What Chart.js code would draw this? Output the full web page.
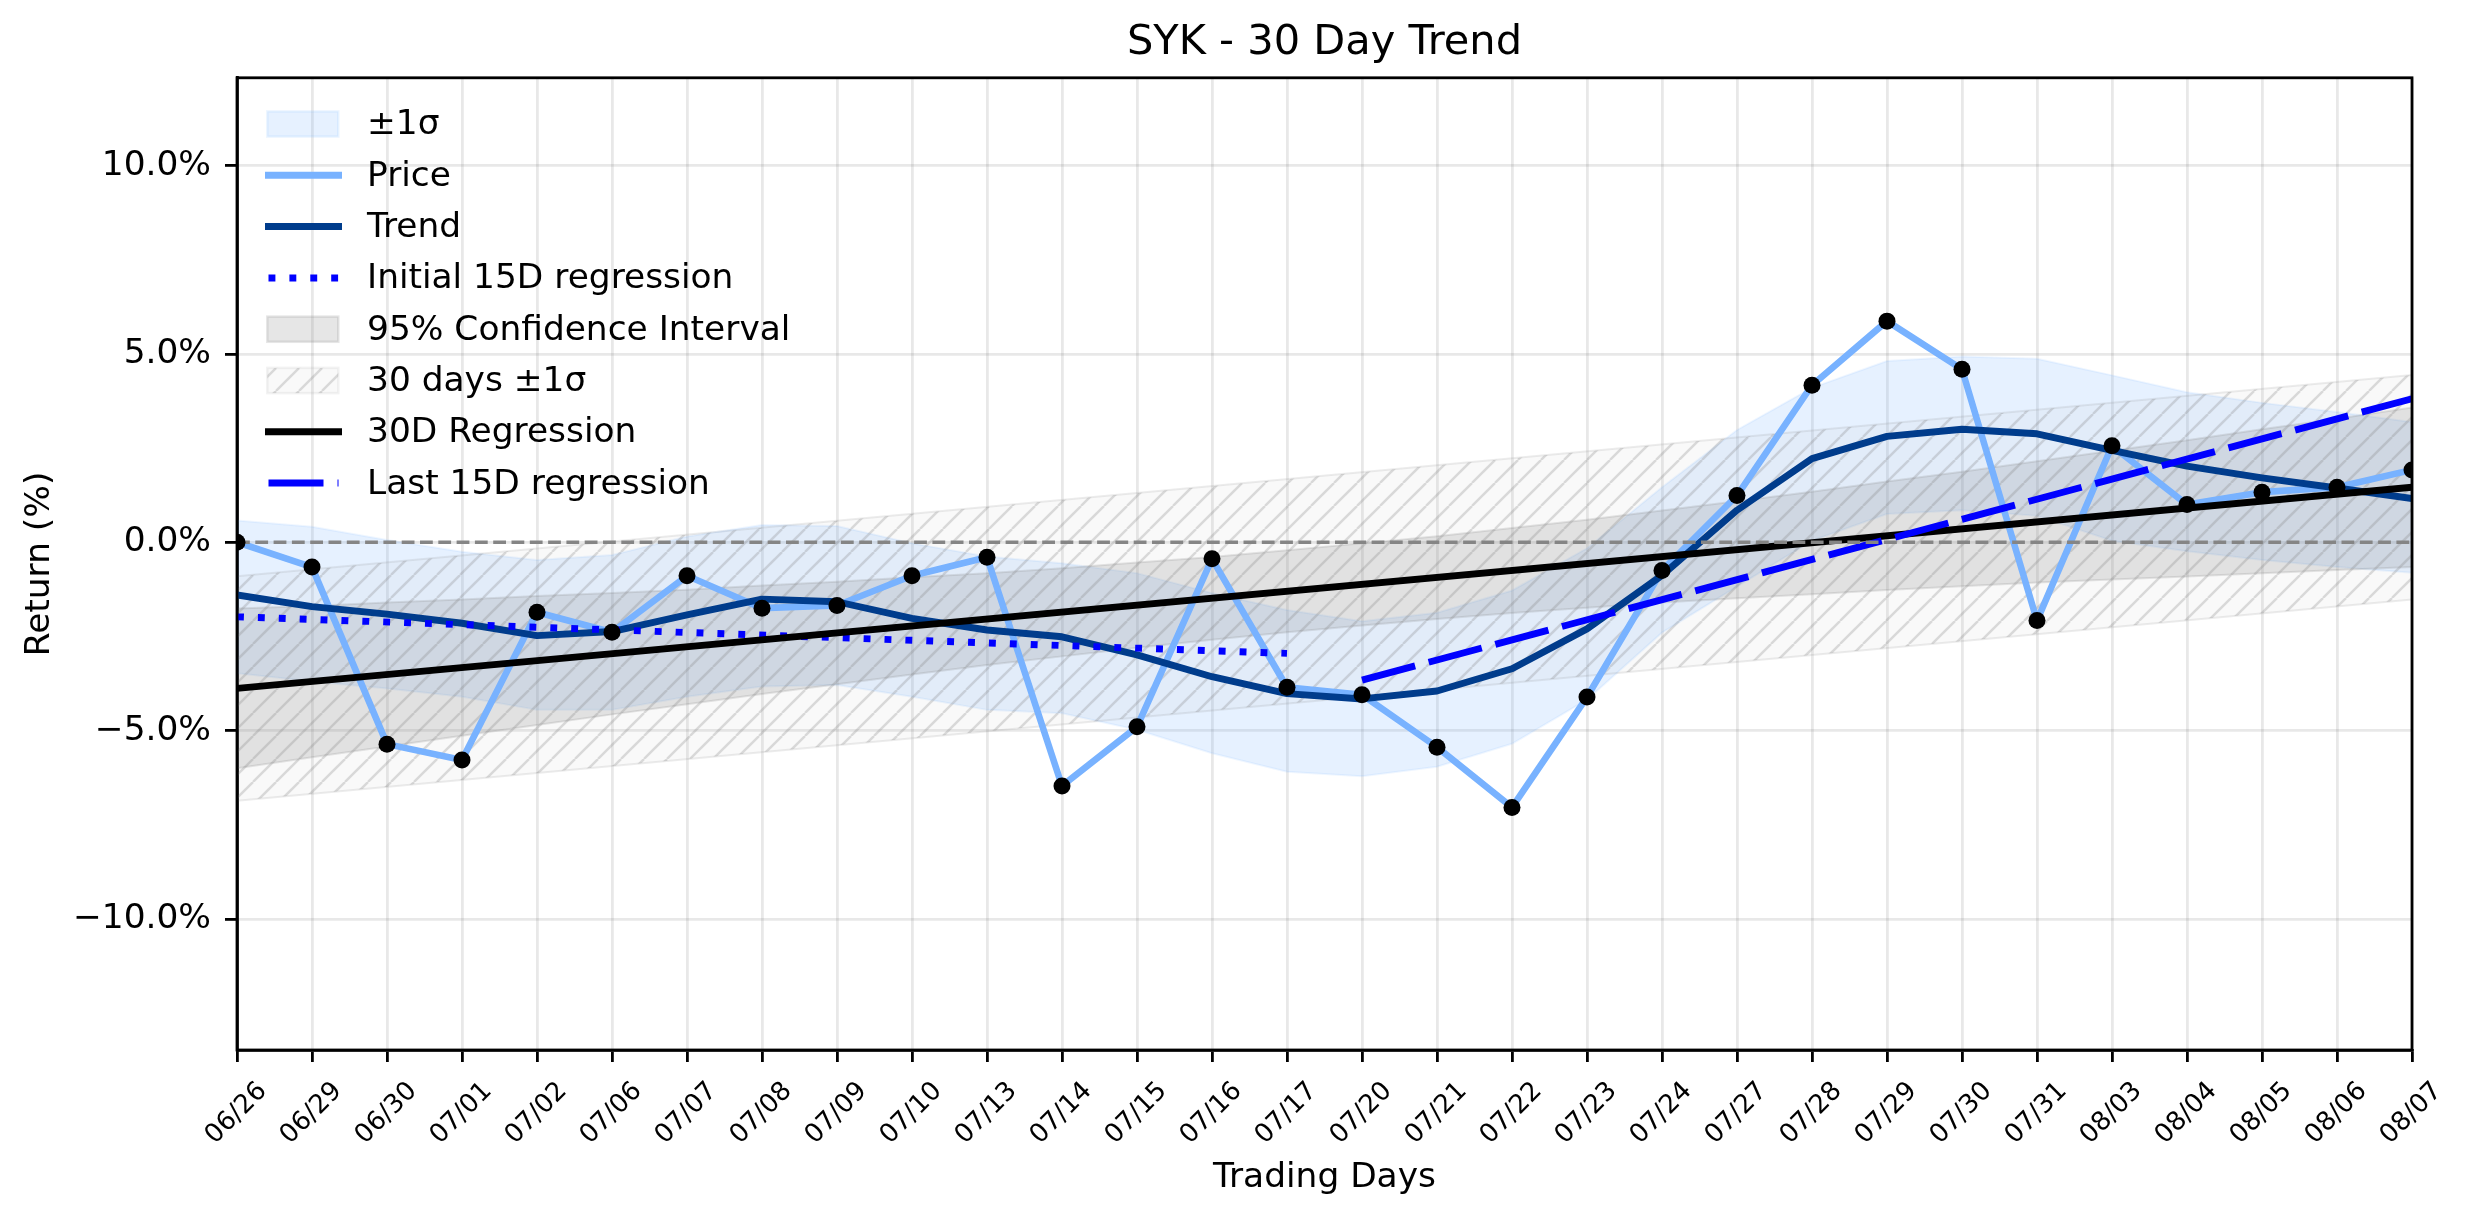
<!DOCTYPE html>
<html>
<head>
<meta charset="utf-8">
<title>SYK - 30 Day Trend</title>
<script src="https://cdn.jsdelivr.net/npm/chart.js@4.4.1/dist/chart.umd.min.js"></script>
<style>
  html, body { margin: 0; padding: 0; background: #fff; }
  #chart { display: block; }
</style>
</head>
<body>
<canvas id="chart" width="2474" height="1224"></canvas>
<script>
// x axis: trading days
const days = ['06/26','06/29','06/30','07/01','07/02','07/06','07/07','07/08','07/09','07/10',
              '07/13','07/14','07/15','07/16','07/17','07/20','07/21','07/22','07/23','07/24',
              '07/27','07/28','07/29','07/30','07/31','08/03','08/04','08/05','08/06','08/07'];

// return in %
const price = [0.00, -0.66, -5.36, -5.78, -1.86, -2.39, -0.89, -1.75, -1.68, -0.89,
               -0.40, -6.47, -4.90, -0.44, -3.85, -4.05, -5.44, -7.04, -4.11, -0.75,
                1.24, 4.17, 5.87, 4.59, -2.08, 2.56, 1.00, 1.33, 1.46, 1.92];
const trend = [-1.40, -1.71, -1.91, -2.15, -2.48, -2.37, -1.93, -1.51, -1.58, -2.02,
               -2.33, -2.51, -2.99, -3.57, -4.02, -4.16, -3.95, -3.36, -2.30, -0.88,
                0.85, 2.22, 2.81, 3.00, 2.88, 2.44, 2.02, 1.71, 1.44, 1.16];
const sigmaUpper = [0.58, 0.41, 0.06, -0.25, -0.47, -0.34, 0.15, 0.46, 0.43, -0.03,
                    -0.38, -0.56, -0.82, -1.35, -1.80, -2.10, -1.87, -1.28, -0.16, 1.46,
                     2.98, 4.10, 4.81, 4.93, 4.87, 4.43, 3.98, 3.70, 3.46, 3.19];
const sigmaLower = [-3.48, -3.70, -3.88, -4.10, -4.45, -4.45, -4.10, -3.83, -3.79, -4.10,
                    -4.45, -4.54, -4.98, -5.60, -6.09, -6.21, -5.96, -5.35, -4.18, -2.40,
                    -1.18, 0.04, 0.75, 0.85, 0.70, 0.04, -0.24, -0.47, -0.66, -0.81];
const ciUpper = [-1.76, -1.69, -1.60, -1.52, -1.43, -1.35, -1.26, -1.15, -1.05, -0.93,
                 -0.82, -0.69, -0.54, -0.39, -0.21, -0.03, 0.16, 0.38, 0.60, 0.84,
                  1.09, 1.34, 1.61, 1.87, 2.15, 2.43, 2.71, 3.00, 3.28, 3.58];
const ciLower = [-6.00, -5.71, -5.42, -5.14, -4.85, -4.57, -4.30, -4.03, -3.77, -3.51,
                 -3.26, -3.03, -2.80, -2.59, -2.39, -2.21, -2.04, -1.88, -1.74, -1.60,
                 -1.49, -1.38, -1.27, -1.17, -1.07, -0.99, -0.91, -0.82, -0.74, -0.66];

// straight lines, [day, value] at both ends
const reg30 = [['06/26', -3.88], ['08/07', 1.46]];
const band30Upper = [['06/26', -0.90], ['08/07', 4.44]];
const band30Lower = [['06/26', -6.86], ['08/07', -1.52]];
const firstReg = [['06/26', -1.98], ['07/17', -2.95]];
const lastReg = [['07/20', -3.66], ['08/07', 3.81]];
const zeroLine = [['06/26', 0], ['08/07', 0]];

const yTicks = [-10, -5, 0, 5, 10];
const yMin = -13.48, yMax = 12.33;

// colours
const PRICE = '#78b2ff';
const TREND = '#003c8c';
const SIGMA_FILL = 'rgba(100,170,255,0.16)';
const SIGMA_EDGE = 'rgba(100,170,255,0.10)';
const CI_FILL = 'rgba(128,128,128,0.2)';
const CI_EDGE = 'rgba(128,128,128,0.2)';
const HATCH_FACE = 'rgba(128,128,128,0.05)';
const HATCH_LINE = 'rgba(128,128,128,0.28)';
const GRID = 'rgba(0,0,0,0.09)';

Chart.defaults.font.family = "'DejaVu Sans', sans-serif";
Chart.defaults.color = '#000';

const canvas = document.getElementById('chart');
const ctx = canvas.getContext('2d');

function hatchPattern(c){
  const s = 23;
  const tile = document.createElement('canvas');
  tile.width = s; tile.height = s;
  const t = tile.getContext('2d');
  t.fillStyle = HATCH_FACE;
  t.fillRect(0, 0, s, s);
  t.strokeStyle = HATCH_LINE;
  t.lineWidth = 2.4;
  [-1, 0, 1].forEach(k=>{
    t.beginPath();
    t.moveTo(k*s, s);
    t.lineTo(k*s + s, 0);
    t.stroke();
  });
  return c.createPattern(tile, 'repeat');
}
const HATCH = hatchPattern(ctx);

const pts = arr => arr.map(([x, y]) => ({x, y}));
const fmtPct = v => (v < 0 ? '\u2212' : '') + Math.abs(v).toFixed(1) + '%';

const legendItems = [
  { label: '±1σ', kind: 'patch', fill: SIGMA_FILL, edge: 'rgba(100,170,255,0.12)' },
  { label: 'Price', kind: 'line', color: PRICE, width: 7 },
  { label: 'Trend', kind: 'line', color: TREND, width: 7 },
  { label: 'Initial 15D regression', kind: 'line', color: '#0000ff', width: 7, dash: [6.9, 14] },
  { label: '95% Confidence Interval', kind: 'patch', fill: CI_FILL, edge: CI_EDGE },
  { label: '30 days ±1σ', kind: 'patch', fill: HATCH, edge: 'rgba(128,128,128,0.1)' },
  { label: '30D Regression', kind: 'line', color: '#000', width: 7 },
  { label: 'Last 15D regression', kind: 'line', color: '#0000ff', width: 7, dash: [55, 14] }
];

// spines on all four sides + legend in the top-left corner
const frame = {
  id: 'frame',
  afterDatasetsDraw(chart){
    const {ctx, chartArea: a} = chart;
    ctx.save();
    ctx.strokeStyle = '#000';
    ctx.lineWidth = 2.8;
    ctx.strokeRect(a.left, a.top, a.right - a.left, a.bottom - a.top);
    ctx.restore();
  },
  afterDraw(chart){
    const {ctx, chartArea: a} = chart;
    const x0 = a.left + 31.5, x1 = x0 + 70, tx = x1 + 28.5;
    legendItems.forEach((it, i)=>{
      const y = a.top + 46.2 + i*51.3;
      ctx.save();
      if(it.kind === 'patch'){
        ctx.fillStyle = it.fill;
        ctx.fillRect(x0 - 1.2, y - 12.6, 71, 25.2);
        ctx.strokeStyle = it.edge;
        ctx.lineWidth = 2.5;
        ctx.strokeRect(x0 - 1.2, y - 12.6, 71, 25.2);
      } else {
        ctx.strokeStyle = it.color;
        ctx.lineWidth = it.width;
        ctx.setLineDash(it.dash || []);
        ctx.lineCap = it.dash ? 'butt' : 'square';
        ctx.beginPath();
        ctx.moveTo(x0, y);
        ctx.lineTo(x1, y);
        ctx.stroke();
        ctx.setLineDash([]);
      }
      ctx.fillStyle = '#000';
      ctx.font = "34.4px 'DejaVu Sans'";
      ctx.textBaseline = 'middle';
      ctx.textAlign = 'left';
      ctx.fillText(it.label, tx, y + 1.5);
      ctx.restore();
    });
  }
};

new Chart(ctx, {
  type: 'line',
  data: {
    labels: days,
    datasets: [
      { label: 'markers', data: price, showLine: false, pointRadius: 8.5, pointHoverRadius: 8.5,
        pointBackgroundColor: '#000', pointBorderWidth: 0, order: 0, clip: 0 },
      { label: 'zero', data: pts(zeroLine), borderColor: '#858585', borderWidth: 3.4,
        borderDash: [12.8, 5.5], order: 1, clip: 0 },
      { label: 'Last 15D regression', data: pts(lastReg), borderColor: '#0000ff', borderWidth: 6.9,
        borderDash: [55, 14], order: 2, clip: 0 },
      { label: '30D Regression', data: pts(reg30), borderColor: '#000', borderWidth: 6.9, order: 3, clip: 0 },
      { label: 'Initial 15D regression', data: pts(firstReg), borderColor: '#0000ff', borderWidth: 6.9,
        borderDash: [6.9, 14], order: 4, clip: 0 },
      { label: 'Trend', data: trend, borderColor: TREND, borderWidth: 6.9,
        borderJoinStyle: 'round', order: 5, clip: 0 },
      { label: 'Price', data: price, borderColor: PRICE, borderWidth: 6.6,
        borderJoinStyle: 'round', order: 6, clip: 0 },
      { label: '95% Confidence Interval', data: ciUpper, borderColor: CI_EDGE, borderWidth: 2,
        backgroundColor: CI_FILL, fill: '+1', order: 10, clip: 0 },
      { label: 'ci low', data: ciLower, borderColor: CI_EDGE, borderWidth: 2, fill: false, order: 10, clip: 0 },
      { label: '30 days ±1σ', data: pts(band30Upper), borderColor: 'rgba(128,128,128,0.15)', borderWidth: 2,
        backgroundColor: HATCH, fill: '+1', order: 11, clip: 0 },
      { label: 'band low', data: pts(band30Lower), borderColor: 'rgba(128,128,128,0.15)', borderWidth: 2,
        fill: false, order: 11, clip: 0 },
      { label: '±1σ', data: sigmaUpper, borderColor: SIGMA_EDGE, borderWidth: 2,
        backgroundColor: SIGMA_FILL, fill: '+1', order: 12, clip: 0 },
      { label: 'sigma low', data: sigmaLower, borderColor: SIGMA_EDGE, borderWidth: 2, fill: false, order: 12, clip: 0 }
    ]
  },
  options: {
    responsive: false,
    animation: false,
    devicePixelRatio: 1,
    layout: { padding: { left: 0, right: 62, top: 0, bottom: 0 } },
    elements: { point: { radius: 0 }, line: { tension: 0 } },
    plugins: {
      legend: { display: false },
      tooltip: { enabled: false },
      title: {
        display: true, text: 'SYK - 30 Day Trend', fullSize: false, color: '#000',
        font: { size: 41.5, weight: 'normal' }, padding: { top: 18, bottom: 10 }
      }
    },
    scales: {
      x: {
        type: 'category', offset: false,
        grid: { color: GRID, lineWidth: 2.8, tickColor: '#000', tickWidth: 2.8, tickLength: 12 },
        border: { display: true, color: '#000', width: 2.8 },
        ticks: { autoSkip: false, minRotation: 45, maxRotation: 45, labelOffset: 26, padding: 14,
                 font: { size: 26 }, color: '#000' },
        title: { display: true, text: 'Trading Days', color: '#000', font: { size: 34.4 },
                 padding: { top: 0, bottom: 25 } },
        afterFit: s => { s.height = 174; }
      },
      y: {
        min: yMin, max: yMax,
        afterBuildTicks: s => { s.ticks = yTicks.map(v => ({ value: v })); },
        grid: { color: GRID, lineWidth: 2.8, tickColor: '#000', tickWidth: 2.8, tickLength: 12 },
        border: { display: true, color: '#000', width: 2.8 },
        ticks: { callback: v => fmtPct(v), padding: 14, font: { size: 34.4 }, color: '#000' },
        title: { display: true, text: 'Return (%)', color: '#000', font: { size: 34.4 },
                 padding: { top: 19, bottom: 0 } },
        afterFit: s => { s.width = 237; }
      }
    }
  },
  plugins: [frame]
});
</script>
</body>
</html>
